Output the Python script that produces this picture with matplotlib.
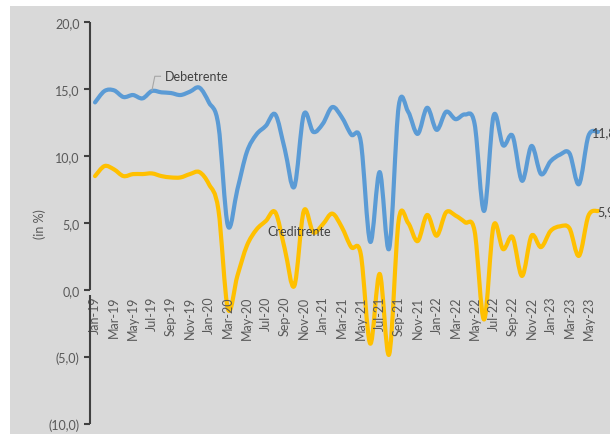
import numpy as np
import matplotlib.pyplot as plt
from matplotlib.path import Path
from matplotlib.patches import PathPatch, Rectangle

plt.rcParams['font.family'] = ['Lato', 'DejaVu Sans']

months = ['Jan-19', 'Feb-19', 'Mar-19', 'Apr-19', 'May-19', 'Jun-19', 'Jul-19', 'Aug-19', 'Sep-19', 'Oct-19', 'Nov-19', 'Dec-19',
          'Jan-20', 'Feb-20', 'Mar-20', 'Apr-20', 'May-20', 'Jun-20', 'Jul-20', 'Aug-20', 'Sep-20', 'Oct-20', 'Nov-20', 'Dec-20',
          'Jan-21', 'Feb-21', 'Mar-21', 'Apr-21', 'May-21', 'Jun-21', 'Jul-21', 'Aug-21', 'Sep-21', 'Oct-21', 'Nov-21', 'Dec-21',
          'Jan-22', 'Feb-22', 'Mar-22', 'Apr-22', 'May-22', 'Jun-22', 'Jul-22', 'Aug-22', 'Sep-22', 'Oct-22', 'Nov-22', 'Dec-22',
          'Jan-23', 'Feb-23', 'Mar-23', 'Apr-23', 'May-23', 'Jun-23']

debetrente = [14.0, 14.85, 14.9, 14.4, 14.55, 14.3, 14.85, 14.75, 14.7, 14.55, 14.8, 15.1,
              14.0, 12.3, 4.8, 7.5, 10.3, 11.6, 12.25, 13.1, 10.5, 7.7, 13.1, 11.8,
              12.4, 13.65, 12.9, 11.6, 11.1, 3.6, 8.8, 3.1, 13.7, 13.3, 11.65, 13.6,
              11.95, 13.3, 12.75, 13.1, 12.4, 5.9, 13.0, 10.8, 11.5, 8.15, 10.75, 8.65,
              9.6, 10.1, 10.2, 7.9, 11.5, 11.8]

creditrente = [8.5, 9.25, 9.0, 8.5, 8.65, 8.65, 8.7, 8.5, 8.4, 8.4, 8.65, 8.8,
               7.9, 6.0, -1.4, 1.05, 3.3, 4.5, 5.15, 5.8, 3.05, 0.3, 5.9, 4.3,
               4.9, 5.7, 4.7, 3.2, 2.7, -4.0, 1.2, -4.8, 5.2, 5.0, 3.65, 5.6,
               4.05, 5.8, 5.55, 5.05, 4.4, -2.2, 4.8, 3.05, 3.95, 1.05, 4.05, 3.2,
               4.4, 4.75, 4.6, 2.55, 5.55, 5.9]

yticks = [-10, -5, 0, 5, 10, 15, 20]
blue = '#5b9bd5'
yellow = '#ffc000'


def smooth_path(y):
    # catmull-rom segments as cubic bezier, like excel smoothed lines
    pts = np.column_stack([np.arange(len(y)), np.asarray(y, float)])
    ext = np.vstack([pts[0], pts, pts[-1]])
    verts = [pts[0]]
    codes = [Path.MOVETO]
    for i in range(1, len(ext) - 2):
        p0, p1, p2, p3 = ext[i - 1], ext[i], ext[i + 1], ext[i + 2]
        verts += [p1 + (p2 - p0) / 6, p2 - (p3 - p1) / 6, p2]
        codes += [Path.CURVE4] * 3
    return Path(verts, codes)


def fmt(v):
    s = f'{abs(v):.1f}'.replace('.', ',')
    return f'({s})' if v < 0 else s


fig = plt.figure(figsize=(6.1, 4.35), dpi=100)
fig.patches.append(Rectangle((10 / 610, 0), 1, 1 - 7 / 435, transform=fig.transFigure,
                             facecolor='#d9d9d9', edgecolor='none', zorder=-5))
ax = fig.add_axes([90 / 610, 10 / 435, 520 / 610, 402 / 435])
ax.set_facecolor('none')

for vals, col in [(debetrente, blue), (creditrente, yellow)]:
    ax.add_patch(PathPatch(smooth_path(vals), facecolor='none', edgecolor=col,
                           lw=3.0, capstyle='round', joinstyle='round'))

ax.set_xlim(-0.53, 54.27)
ax.set_ylim(-10, 20)

for s in ['top', 'right', 'left']:
    ax.spines[s].set_visible(False)
ax.spines['bottom'].set_position(('data', 0))
ax.spines['bottom'].set_visible(False)
# y axis line with the small break under the category labels
ytr = ax.get_yaxis_transform()
ax.plot([0, 0], [0, 20], color='#404040', lw=1.5, transform=ytr, clip_on=False, solid_capstyle='butt')
ax.plot([0, 0], [-0.4, -10], color='#404040', lw=1.5, transform=ytr, clip_on=False, solid_capstyle='butt')

ax.tick_params(axis='y', colors='#404040', labelcolor='#595959', labelsize=9, length=4, width=1.5)
ax.tick_params(axis='x', length=0, labelcolor='#595959', labelsize=9, pad=4, labelrotation=90)

ax.set_yticks(yticks)
ax.set_yticklabels([fmt(v) for v in yticks])
ax.set_xticks(range(0, len(months), 2))
ax.set_xticklabels(months[::2])
for lab in ax.get_xticklabels():
    lab.set_rotation(90)
    lab.set_va('top')
    lab.set_ha('center')

ax.set_ylabel('(in %)', color='#595959', fontsize=9, labelpad=2)

# series labels
ax.plot([6.0, 6.3, 6.9], [14.9, 15.95, 15.95], color='#a6a6a6', lw=0.8)
ax.text(7.4, 15.95, 'Debetrente', fontsize=9, color='#404040', va='center', ha='left')
ax.text(18.2, 4.4, 'Creditrente', fontsize=9, color='#404040', va='center', ha='left')
ax.text(52.4, debetrente[-1], fmt(debetrente[-1]), fontsize=9, color='#404040', va='center', ha='left')
ax.text(52.9, creditrente[-1], fmt(creditrente[-1]), fontsize=9, color='#404040', va='center', ha='left')

fig.savefig('out.png', dpi=100)
